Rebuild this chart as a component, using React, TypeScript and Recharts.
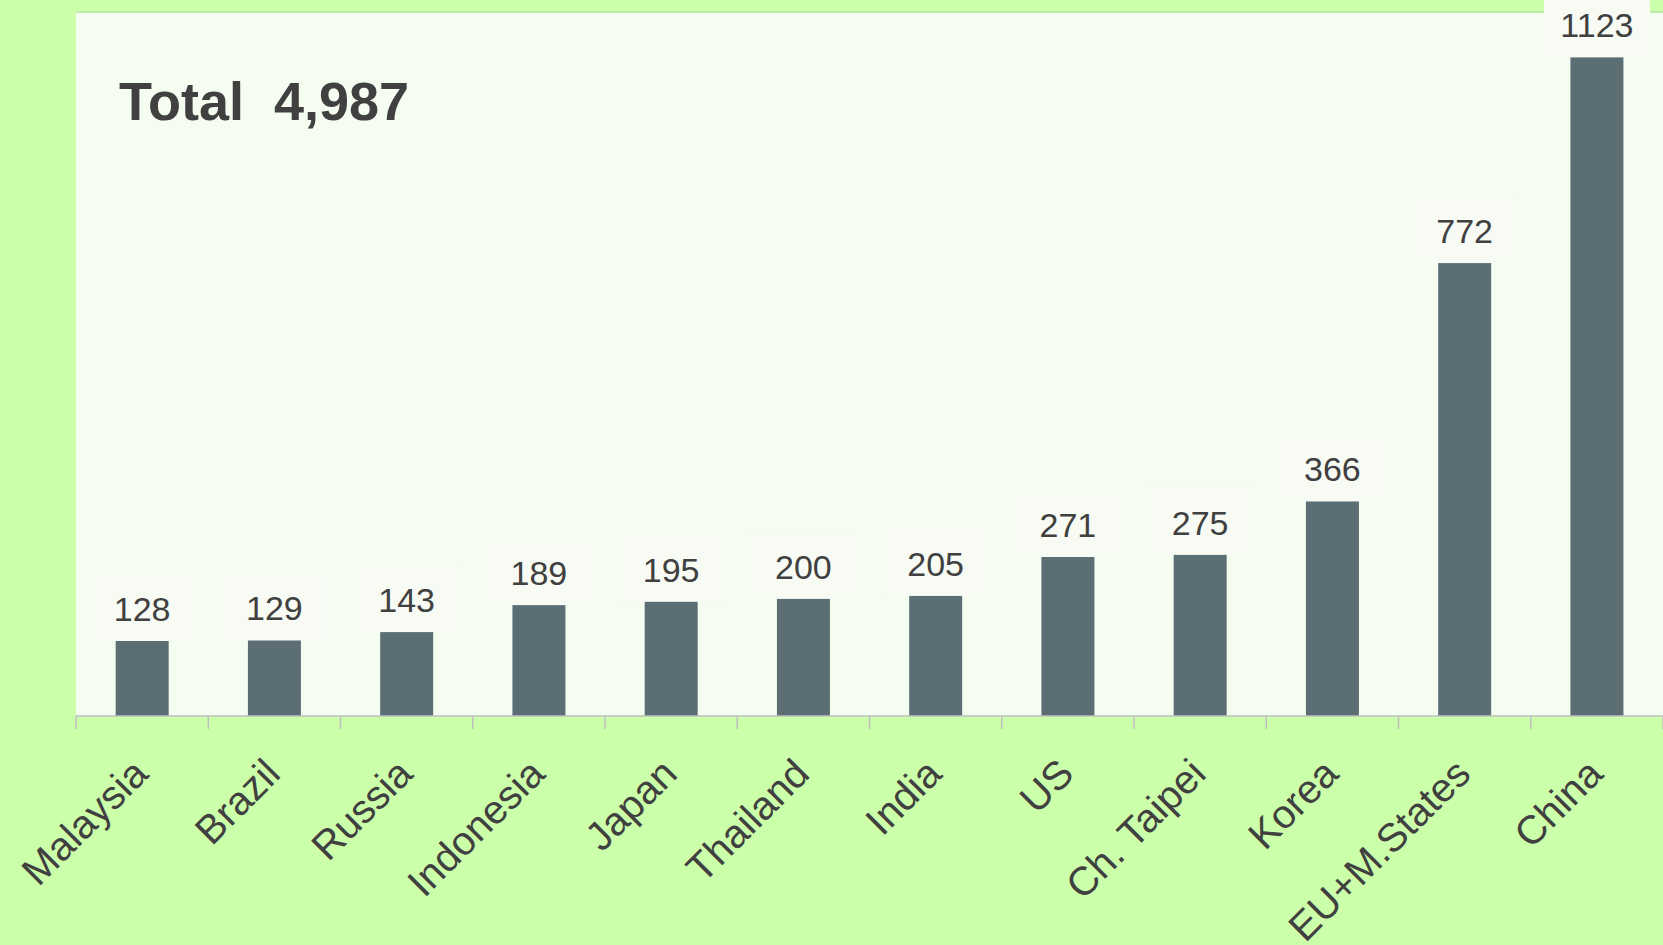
import React from "react";
import { BarChart, Bar, XAxis, YAxis, CartesianGrid, LabelList, ReferenceLine } from "recharts";

const countries = [
  "Malaysia", "Brazil", "Russia", "Indonesia", "Japan", "Thailand",
  "India", "US", "Ch. Taipei", "Korea", "EU+M.States", "China",
];
const values = [128, 129, 143, 189, 195, 200, 205, 271, 275, 366, 772, 1123];
const totalText = "Total  4,987";

const data = countries.map((name, i) => ({ name, value: values[i] }));

const FONT = "'Liberation Sans', Arial, sans-serif";
const TEXT = "#404040";
const AXIS = "#BFBFBF";

// tick marks sit between categories, so draw them from the band offset
const CountryTick = (props: any) => {
  const { x, y, payload, index, visibleTicksCount } = props;
  const half = payload.offset || 0;
  const ax = x + 8;
  const ay = y + 60;
  return (
    <g>
      <line x1={x - half} x2={x - half} y1={y} y2={y + 13} stroke={AXIS} strokeWidth={1.5} />
      {index === visibleTicksCount - 1 && (
        <line x1={x + half} x2={x + half} y1={y} y2={y + 13} stroke={AXIS} strokeWidth={1.5} />
      )}
      <text
        x={ax}
        y={ay}
        transform={`rotate(-45, ${ax}, ${ay})`}
        textAnchor="end"
        fontSize={40}
        fontFamily={FONT}
        fill={TEXT}
      >
        {payload.value}
      </text>
    </g>
  );
};

const ValueLabel = (props: any) => {
  const { x, y, width, value } = props;
  const cx = x + width / 2;
  return (
    <g>
      <rect x={cx - 53} y={y - 68} width={106} height={68} fill="#F7FBF4" />
      <text x={cx} y={y - 20} textAnchor="middle" fontSize={34} fontFamily={FONT} fill={TEXT}>
        {value}
      </text>
    </g>
  );
};

export default function App() {
  return (
    <div style={{ position: "absolute", top: 0, left: 0, width: 1663, height: 945, background: "#CCFFAA" }}>
      <BarChart
        width={1663}
        height={945}
        data={data}
        margin={{ top: 12, right: 0, bottom: 0, left: 76 }}
        barCategoryGap="30%"
      >
        <CartesianGrid fill="#F4FDF0" horizontal={false} vertical={false} stroke="none" />
        <XAxis
          dataKey="name"
          height={229}
          interval={0}
          axisLine={{ stroke: AXIS, strokeWidth: 1.5 }}
          tickLine={false}
          tickSize={0}
          tickMargin={0}
          tick={<CountryTick />}
        />
        <YAxis
          domain={[0, 1200]}
          width={0}
          tick={false}
          tickLine={false}
          axisLine={{ stroke: "#B5E59C", strokeWidth: 1.5 }}
        />
        <ReferenceLine y={1200} stroke="#B5E59C" strokeWidth={1.5} />
        <Bar dataKey="value" fill="#5B6E74" isAnimationActive={false}>
          <LabelList dataKey="value" content={<ValueLabel />} />
        </Bar>
      </BarChart>
      <svg width={1663} height={945} style={{ position: "absolute", top: 0, left: 0, pointerEvents: "none" }}>
        <text x={119} y={120} fontSize={54} fontWeight="bold" fontFamily={FONT} fill={TEXT} style={{ whiteSpace: "pre" }}>
          {totalText}
        </text>
      </svg>
    </div>
  );
}
